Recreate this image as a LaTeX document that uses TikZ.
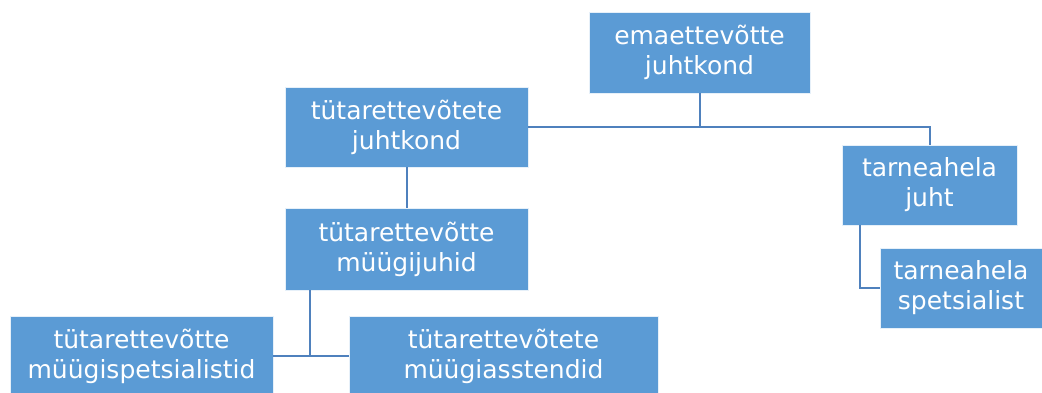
\documentclass[tikz,border=0pt]{standalone}
\usepackage{fontspec}
\setmainfont{DejaVu Sans}
\definecolor{boxblue}{RGB}{91,155,213}
\definecolor{linkblue}{RGB}{79,129,189}
\begin{document}
\begin{tikzpicture}[x=1pt,y=-1pt,
  orgbox/.style={fill=boxblue, draw=white!85!boxblue, line width=0.6pt,
    text=white, align=center, inner sep=0pt,
    font=\fontsize{25}{30}\selectfont},
  link/.style={draw=linkblue, line width=2pt}]
\useasboundingbox (0,0) rectangle (1042,392);
\clip (0,0) rectangle (1042,392);

% boxes
\node[orgbox, minimum width=221pt, minimum height=81pt] (A) at (699.5,52.5) {emaettevõtte\\juhtkond};
\node[orgbox, minimum width=243pt, minimum height=80pt] (B) at (406.5,127) {tütarettevõtete\\juhtkond};
\node[orgbox, minimum width=175pt, minimum height=80pt] (C) at (929.5,185) {tarneahela\\juht};
\node[orgbox, minimum width=243pt, minimum height=82pt] (D) at (406.5,249) {tütarettevõtte\\müügijuhid};
\node[orgbox, minimum width=162pt, minimum height=80pt] (E) at (961,288) {tarneahela\\spetsialist};
\node[orgbox, minimum width=263pt, minimum height=80pt] (F) at (141.5,356) {tütarettevõtte\\müügispetsialistid};
\node[orgbox, minimum width=309pt, minimum height=80pt] (G) at (503.5,356) {tütarettevõtete\\müügiasstendid};

% junction points
\coordinate (dj) at (310,356);
\coordinate (cj) at (860,288);

% connectors
\draw[link] (A.south) -- (A.south |- B.east);
\draw[link] (B.east) -- (C.north |- B.east) -- (C.north);
\draw[link] (B.south) -- (D.north);
\draw[link] (D.south -| dj) -- (dj);
\draw[link] (F.east) -- (G.west);
\draw[link] (C.south -| cj) -- (cj) -- (E.west);
\end{tikzpicture}
\end{document}
